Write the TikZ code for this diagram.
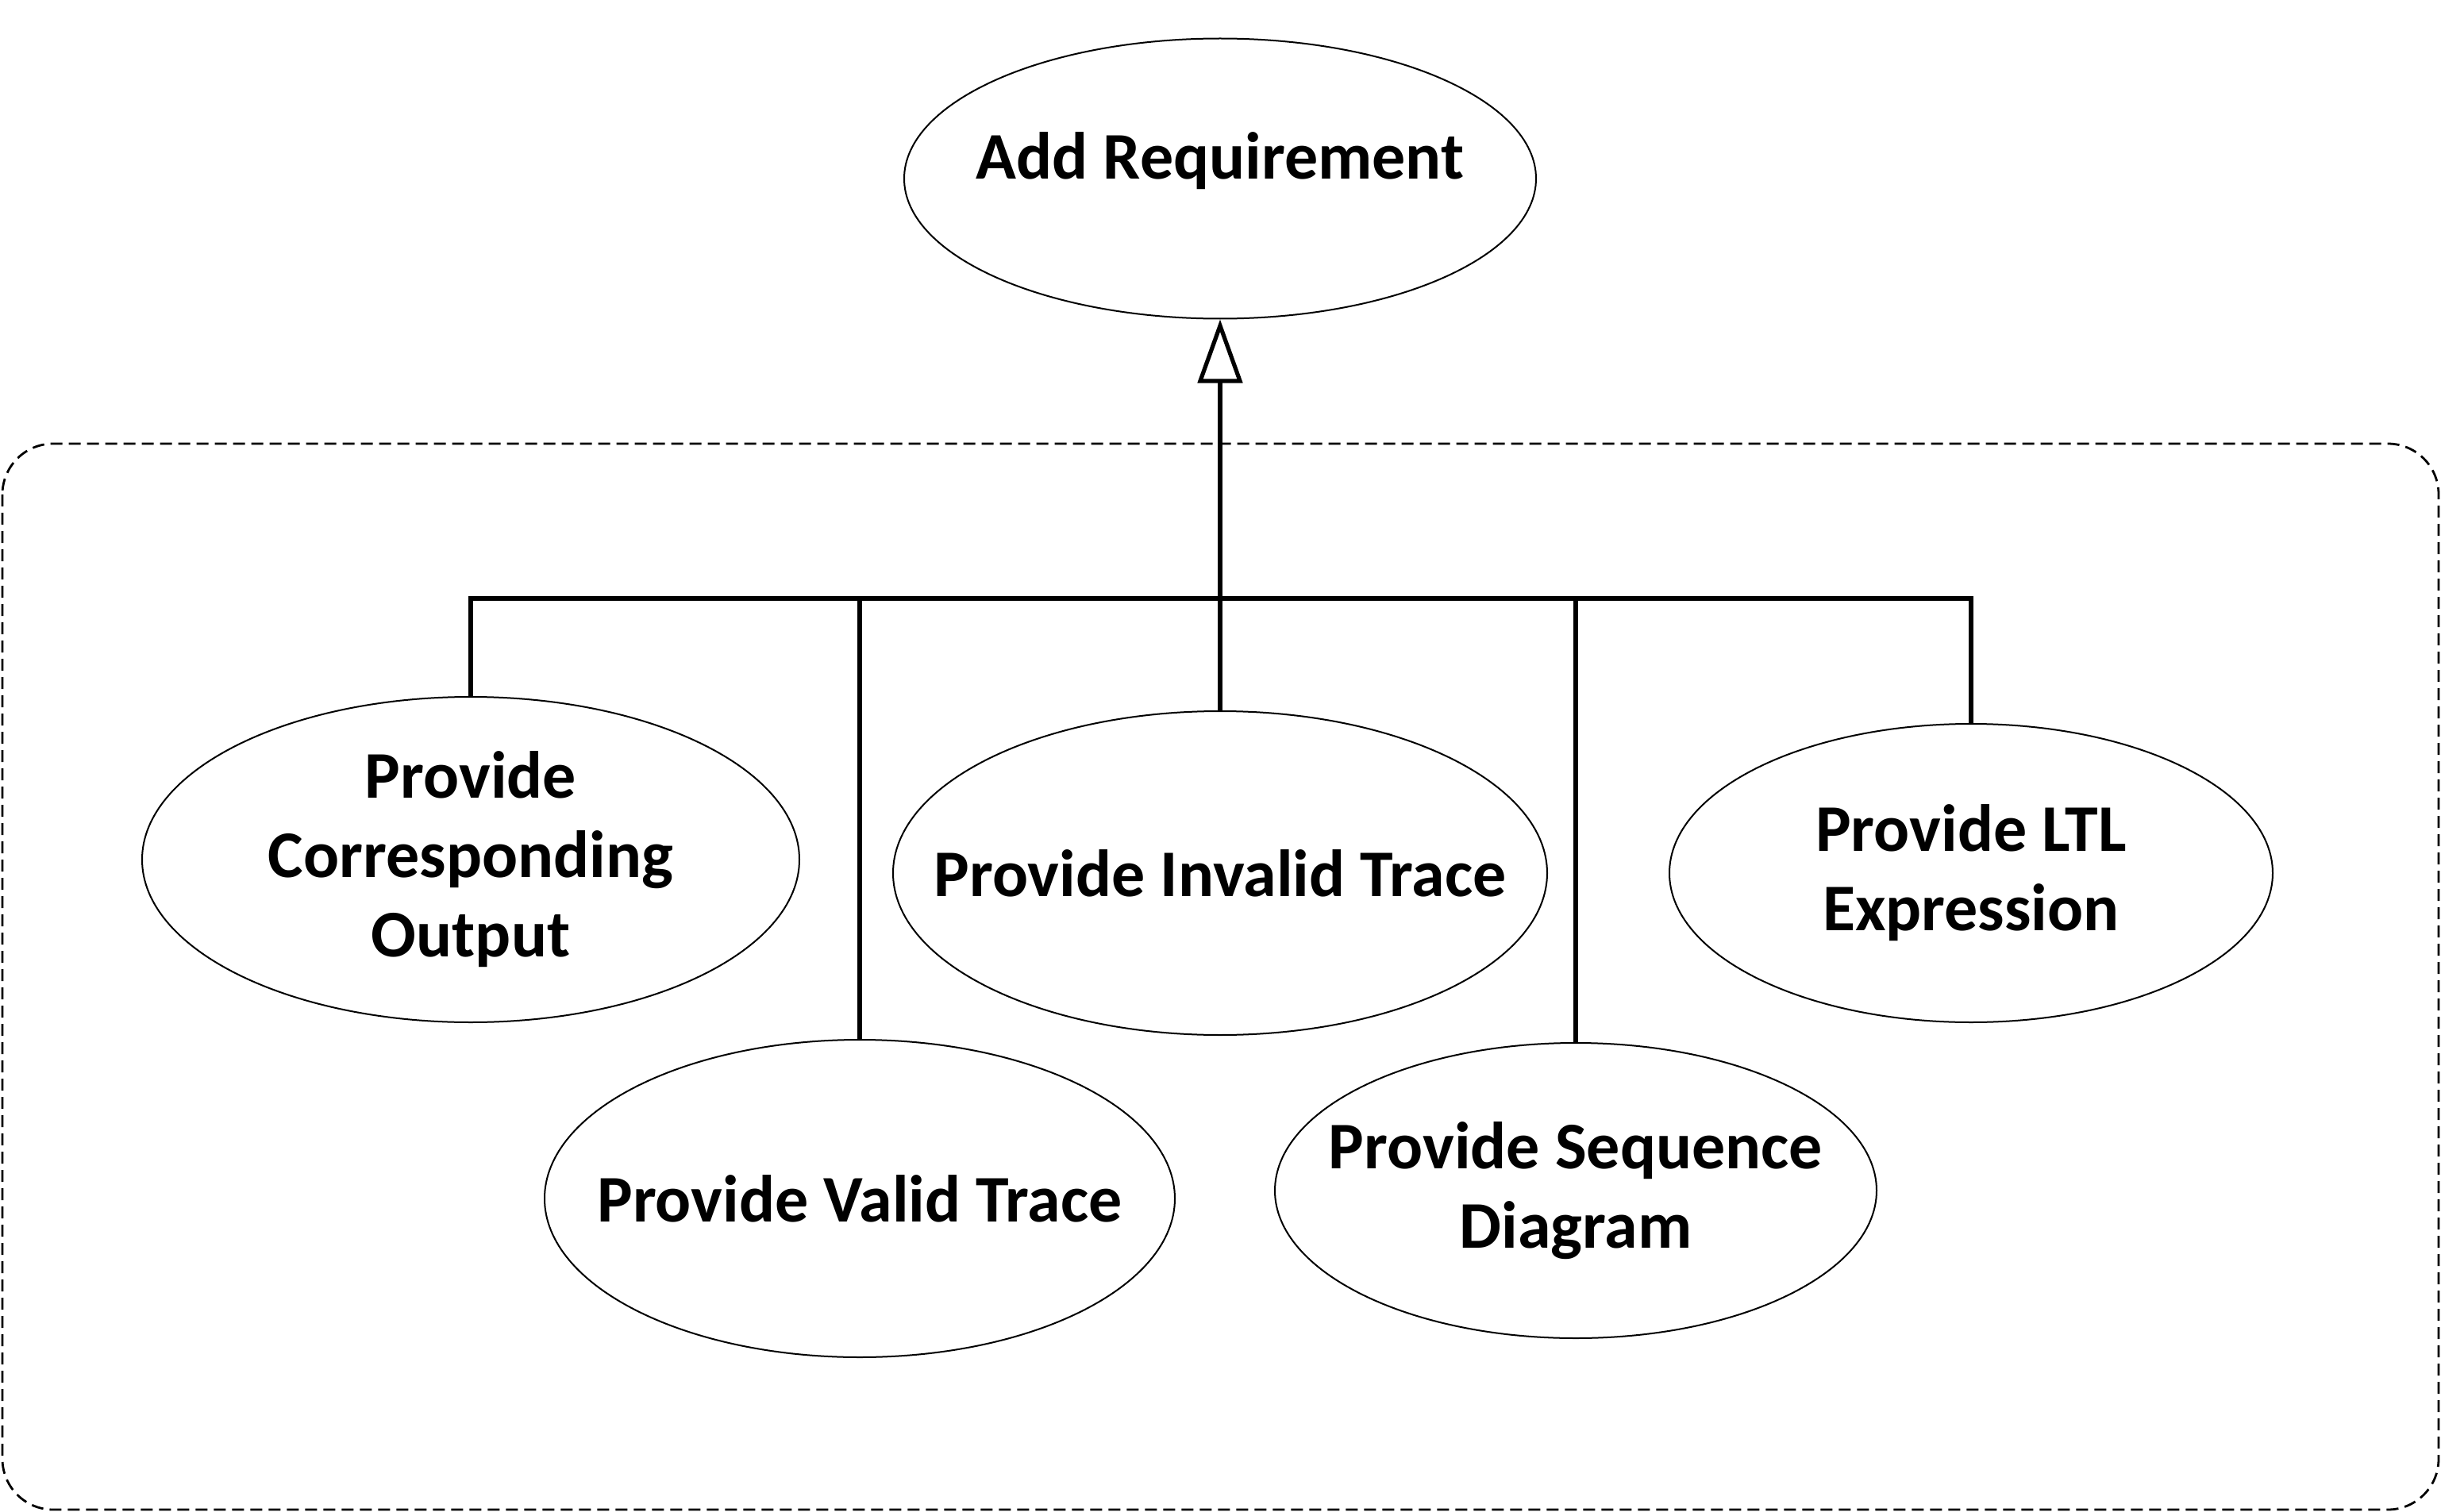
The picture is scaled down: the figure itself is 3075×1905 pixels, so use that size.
\documentclass[tikz,border=0pt]{standalone}
\usepackage{fontspec}
\setmainfont{Carlito}
\usetikzlibrary{arrows.meta,shapes.geometric}
\begin{document}
\begin{tikzpicture}[x=0.25pt,y=-0.25pt,
  uc/.style={draw,ellipse,line width=0.5pt,inner sep=0pt},
  ucl/.style={align=center,inner sep=0pt,
    font=\fontsize{21pt}{25pt}\selectfont\bfseries},
  conn/.style={line width=1.3pt},
  grp/.style={draw,dash pattern=on 3.75pt off 2pt,line width=0.7pt,rounded corners=16pt}]
\useasboundingbox (0,0) rectangle (3075,1905);
\draw[grp] (3,559) rectangle (3072,1902);
\node[uc,minimum width=199pt,minimum height=88.25pt] (AR) at (1537,225) {};
\node[ucl] (ARt) at (1537,203) {Add Requirement};
\node[uc,minimum width=207pt,minimum height=102.5pt] (CO) at (593,1083) {};
\node[ucl] (COt) at (CO.center) {Provide\\Corresponding\\Output};
\node[uc,minimum width=198.5pt,minimum height=100pt] (VT) at (1083,1510) {};
\node[ucl] (VTt) at (VT.center) {Provide Valid Trace};
\node[uc,minimum width=206pt,minimum height=102pt] (IT) at (1537,1100) {};
\node[ucl] (ITt) at (IT.center) {Provide Invalid Trace};
\node[uc,minimum width=189.5pt,minimum height=93pt] (SD) at (1985,1500) {};
\node[ucl] (SDt) at (SD.center) {Provide Sequence\\Diagram};
\node[uc,minimum width=190pt,minimum height=94pt] (LTL) at (2483,1100) {};
\node[ucl] (LTLt) at (LTL.center) {Provide LTL\\Expression};
\coordinate (j) at (1537,754);
\draw[conn] (CO.north) |- (j) -| (LTL.north);
\draw[conn] (VT.north) -- (VT.north |- j);
\draw[conn] (IT.north) -- (j);
\draw[conn] (SD.north) -- (SD.north |- j);
\draw[conn,-{Triangle[open,width=14pt,length=20pt,line width=1.3pt]}] (j) -- (AR.south);
\end{tikzpicture}
\end{document}
